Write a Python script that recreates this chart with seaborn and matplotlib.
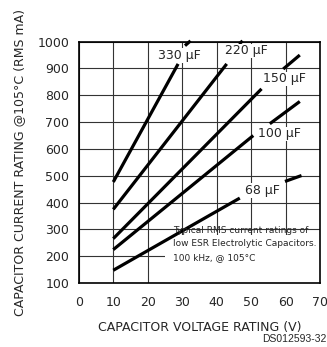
import matplotlib
matplotlib.use("Agg")
import matplotlib.pyplot as plt
import seaborn as sns
import pandas as pd
import numpy as np
from matplotlib.patches import Rectangle

sns.set_style("white")
plt.rcParams['font.family'] = ['DejaVu Sans']

# Data: capacitor RMS current rating (mA) vs voltage rating (V), segments split at labels
cap_330_v = [10, 28.8]; cap_330_i = [477, 917]
cap_330b_v = [30.8, 32.4]; cap_330b_i = [985, 1003]
cap_220_v = [10, 42.9]; cap_220_i = [375, 917]
cap_220b_v = [46.5, 47.5]; cap_220b_i = [991, 1003]
cap_150_v = [10, 53.0]; cap_150_i = [266, 824]
cap_150b_v = [59.3, 64.1]; cap_150b_i = [898, 950]
cap_100_v = [10, 50.6]; cap_100_i = [225, 650]
cap_100b_v = [55.4, 64.1]; cap_100b_i = [694, 777]
cap_68_v = [10, 46.7]; cap_68_i = [148, 417]
cap_68b_v = [59.8, 64.6]; cap_68b_i = [479, 501]

labels = ["330 \u03bcF", "220 \u03bcF", "150 \u03bcF", "100 \u03bcF", "68 \u03bcF"]
label_v = [23.0, 42.4, 53.4, 52.0, 48.2]
label_i = [948, 966, 861, 656, 446]

x_ticks = [0, 10, 20, 30, 40, 50, 60, 70]
y_ticks = [100, 200, 300, 400, 500, 600, 700, 800, 900, 1000]

segments = [
    ("330a", cap_330_v, cap_330_i), ("330b", cap_330b_v, cap_330b_i),
    ("220a", cap_220_v, cap_220_i), ("220b", cap_220b_v, cap_220b_i),
    ("150a", cap_150_v, cap_150_i), ("150b", cap_150b_v, cap_150b_i),
    ("100a", cap_100_v, cap_100_i), ("100b", cap_100b_v, cap_100b_i),
    ("68a", cap_68_v, cap_68_i), ("68b", cap_68b_v, cap_68b_i),
]
rows = []
for name, vs, is_ in segments:
    for v, i in zip(vs, is_):
        rows.append({"seg": name, "V": v, "I": i})
df = pd.DataFrame(rows)

fig = plt.figure(figsize=(3.27, 3.47), dpi=100)
ax = fig.add_axes([0.241, 0.184, 0.738, 0.696])

ax.set_xlim(0, 70)
ax.set_ylim(100, 1000)
ax.set_xticks(x_ticks)
ax.set_yticks(y_ticks)
ax.grid(True, color="#333333", lw=0.8, zorder=0)
ax.set_axisbelow(True)

# white box for note text
ax.add_patch(Rectangle((25, 100), 45, 178, facecolor="white", edgecolor="none", zorder=1.5))

sns.lineplot(data=df, x="V", y="I", units="seg", estimator=None, color="black",
             lw=2.3, ax=ax, zorder=3, legend=False)
for ln in ax.lines:
    ln.set_clip_on(False)
    ln.set_solid_capstyle("butt")

for t, v, i in zip(labels, label_v, label_i):
    ax.text(v, i, t, fontsize=9, ha="left", va="center", zorder=4,
            bbox=dict(facecolor="white", edgecolor="none", pad=0.5))

ax.text(27.2, 246, "Typical RMS current ratings of\nlow ESR Electrolytic Capacitors.\n100 kHz, @ 105\u00b0C",
        fontsize=6.5, ha="left", va="center", linespacing=1.6, zorder=4)

for s in ax.spines.values():
    s.set_color("black")
    s.set_linewidth(1.2)
    s.set_zorder(5)

ax.tick_params(axis="both", length=0, labelsize=9)
ax.tick_params(axis="y", pad=7)
ax.tick_params(axis="x", pad=9)
ax.set_xlabel("CAPACITOR VOLTAGE RATING (V)", fontsize=9, labelpad=9)
ax.set_ylabel("CAPACITOR CURRENT RATING @105\u00b0C (RMS mA)", fontsize=9, labelpad=8)

fig.text(0.999, 0.022, "DS012593-32", fontsize=7.5, ha="right", va="center",
         family=["Liberation Sans"])

fig.savefig("out.png", dpi=100)
